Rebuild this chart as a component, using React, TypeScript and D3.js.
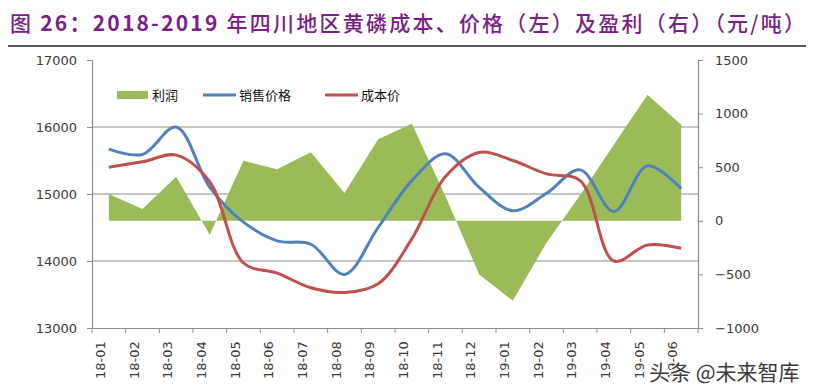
import React, { useEffect, useRef } from "react";
import * as d3 from "d3";

// months on the x axis
const months = [
  "18-01", "18-02", "18-03", "18-04", "18-05", "18-06", "18-07", "18-08", "18-09",
  "18-10", "18-11", "18-12", "19-01", "19-02", "19-03", "19-04", "19-05", "19-06"
];

// profit (right axis, yuan/t)
const profit = [250, 110, 410, -130, 560, 480, 640, 260, 760, 905, 230, -500, -745, -205, 240, 710, 1175, 895];

// selling price (left axis)
const price = [15670, 15590, 16000, 15100, 14580, 14300, 14250, 13800, 14500, 15200, 15600, 15100, 14750, 15010, 15360, 14740, 15420, 15080];

// cost (left axis)
const cost = [15400, 15480, 15580, 15180, 13970, 13820, 13600, 13530, 13660, 14330, 15260, 15620, 15500, 15300, 15200, 14000, 14240, 14190];

const leftTicks = [13000, 14000, 15000, 16000, 17000];
const rightTicks = [-1000, -500, 0, 500, 1000, 1500];
const gridTicks = [14000, 15000, 16000];

const legendItems = [
  { label: "利润", color: "#9BBB59", type: "area" },
  { label: "销售价格", color: "#4F81BD", type: "line" },
  { label: "成本价", color: "#C0504D", type: "line" }
];

const titleParts = [
  { text: "图 ", bold: false },
  { text: "26：2018-2019 ", bold: true },
  { text: "年四川地区黄磷成本、价格（左）及盈利（右）（元/吨）", bold: false }
];

const W = 813;
const H = 391;

const App: React.FC = () => {
  const svgRef = useRef<SVGSVGElement>(null);

  useEffect(() => {
    if (!svgRef.current) return;
    const svg = d3.select(svgRef.current);
    svg.selectAll("*").remove();

    const left = 92;
    const right = 698;
    const top = 60;
    const bottom = 328;
    const axisColor = "#8C8C8C";
    const tickFont = "'DejaVu Sans', Verdana, sans-serif";
    const cjkFont = "'Noto Sans CJK SC', sans-serif";

    const x = d3.scaleBand<string>().domain(months).range([left, right]);
    const cx = (m: string) => (x(m) as number) + x.bandwidth() / 2;
    const yL = d3.scaleLinear().domain([13000, 17000]).range([bottom, top]);
    const yR = d3.scaleLinear().domain([-1000, 1500]).range([bottom, top]);

    // TITLE
    const title = svg
      .append("text")
      .attr("x", 10)
      .attr("y", 31)
      .attr("fill", "#7B1F88")
      .attr("textLength", 795)
      .attr("lengthAdjust", "spacing")
      .style("font-family", cjkFont)
      .style("font-size", "21px");
    titleParts.forEach(p => {
      title
        .append("tspan")
        .style("font-weight", p.bold ? "bold" : "500")
        .text(p.text);
    });

    svg
      .append("line")
      .attr("x1", 8)
      .attr("x2", 806)
      .attr("y1", 46)
      .attr("y2", 46)
      .attr("stroke", "#222")
      .attr("stroke-width", 1.5);

    // GRIDLINES
    svg
      .append("g")
      .selectAll("line")
      .data(gridTicks)
      .enter()
      .append("line")
      .attr("x1", left)
      .attr("x2", right)
      .attr("y1", d => yL(d))
      .attr("y2", d => yL(d))
      .attr("stroke", axisColor)
      .attr("stroke-width", 1.2);

    // PROFIT AREA
    const area = d3
      .area<number>()
      .x((_, i) => cx(months[i]))
      .y0(yR(0))
      .y1(d => yR(d));

    svg.append("path").datum(profit).attr("d", area).attr("fill", "#9BBB59");

    // LINES
    const line = d3
      .line<number>()
      .x((_, i) => cx(months[i]))
      .y(d => yL(d))
      .curve(d3.curveCatmullRom.alpha(0.5));

    svg
      .append("path")
      .datum(price)
      .attr("d", line)
      .attr("fill", "none")
      .attr("stroke", "#4F81BD")
      .attr("stroke-width", 3);

    svg
      .append("path")
      .datum(cost)
      .attr("d", line)
      .attr("fill", "none")
      .attr("stroke", "#C0504D")
      .attr("stroke-width", 3);

    // LEFT AXIS
    const gl = svg
      .append("g")
      .attr("transform", `translate(${left},0)`)
      .call(d3.axisLeft(yL).tickValues(leftTicks).tickSize(5).tickSizeOuter(0).tickPadding(10).tickFormat(d3.format("d")));

    // RIGHT AXIS
    const gr = svg
      .append("g")
      .attr("transform", `translate(${right},0)`)
      .call(d3.axisRight(yR).tickValues(rightTicks).tickSize(5).tickSizeOuter(0).tickPadding(12).tickFormat(d3.format("d")));

    // X AXIS
    const gx = svg
      .append("g")
      .attr("transform", `translate(0,${bottom})`)
      .call(d3.axisBottom(x).tickSize(0).tickPadding(9).tickSizeOuter(0));

    gx.selectAll(".tick text")
      .attr("transform", "rotate(-90)")
      .attr("dx", "-0.55em")
      .attr("dy", "-0.3em")
      .attr("y", 0)
      .attr("x", -6)
      .style("text-anchor", "end");

    gx.append("g")
      .selectAll("line")
      .data([...months.map(m => x(m) as number), right])
      .enter()
      .append("line")
      .attr("x1", d => d)
      .attr("x2", d => d)
      .attr("y1", 0)
      .attr("y2", 5)
      .attr("stroke", axisColor);

    [gl, gr, gx].forEach(g => {
      g.select(".domain").attr("stroke", axisColor).attr("stroke-width", 1.2);
      g.selectAll(".tick line").attr("stroke", axisColor);
      g.selectAll(".tick text")
        .attr("fill", "#3A3A3A")
        .style("font-family", tickFont)
        .style("font-size", "13px");
    });

    // LEGEND
    const lg = svg.append("g").attr("transform", "translate(117,95)");
    const legendX = [0, 86, 208];
    legendItems.forEach((item, i) => {
      const g = lg.append("g").attr("transform", `translate(${legendX[i]},0)`);
      if (item.type === "area") {
        g.append("rect").attr("x", 0).attr("y", -4).attr("width", 31).attr("height", 8).attr("fill", item.color);
      } else {
        g.append("line")
          .attr("x1", 0)
          .attr("x2", 33)
          .attr("y1", 0)
          .attr("y2", 0)
          .attr("stroke", item.color)
          .attr("stroke-width", 3);
      }
      g.append("text")
        .attr("x", item.type === "area" ? 35 : 36)
        .attr("y", 5)
        .attr("fill", "#111")
        .style("font-family", cjkFont)
        .style("font-size", "13px")
        .text(item.label);
    });

    // WATERMARK
    svg
      .append("text")
      .attr("x", 649)
      .attr("y", 380)
      .attr("fill", "#3C3C3C")
      .attr("stroke", "#fff")
      .attr("stroke-width", 2)
      .attr("paint-order", "stroke")
      .style("font-family", cjkFont)
      .style("font-size", "21px")
      .text("头条 @未来智库");
  }, []);

  return (
    <svg
      ref={svgRef}
      width={W}
      height={H}
      style={{ position: "absolute", left: 0, top: 0, background: "#fff" }}
    />
  );
};

export default App;
